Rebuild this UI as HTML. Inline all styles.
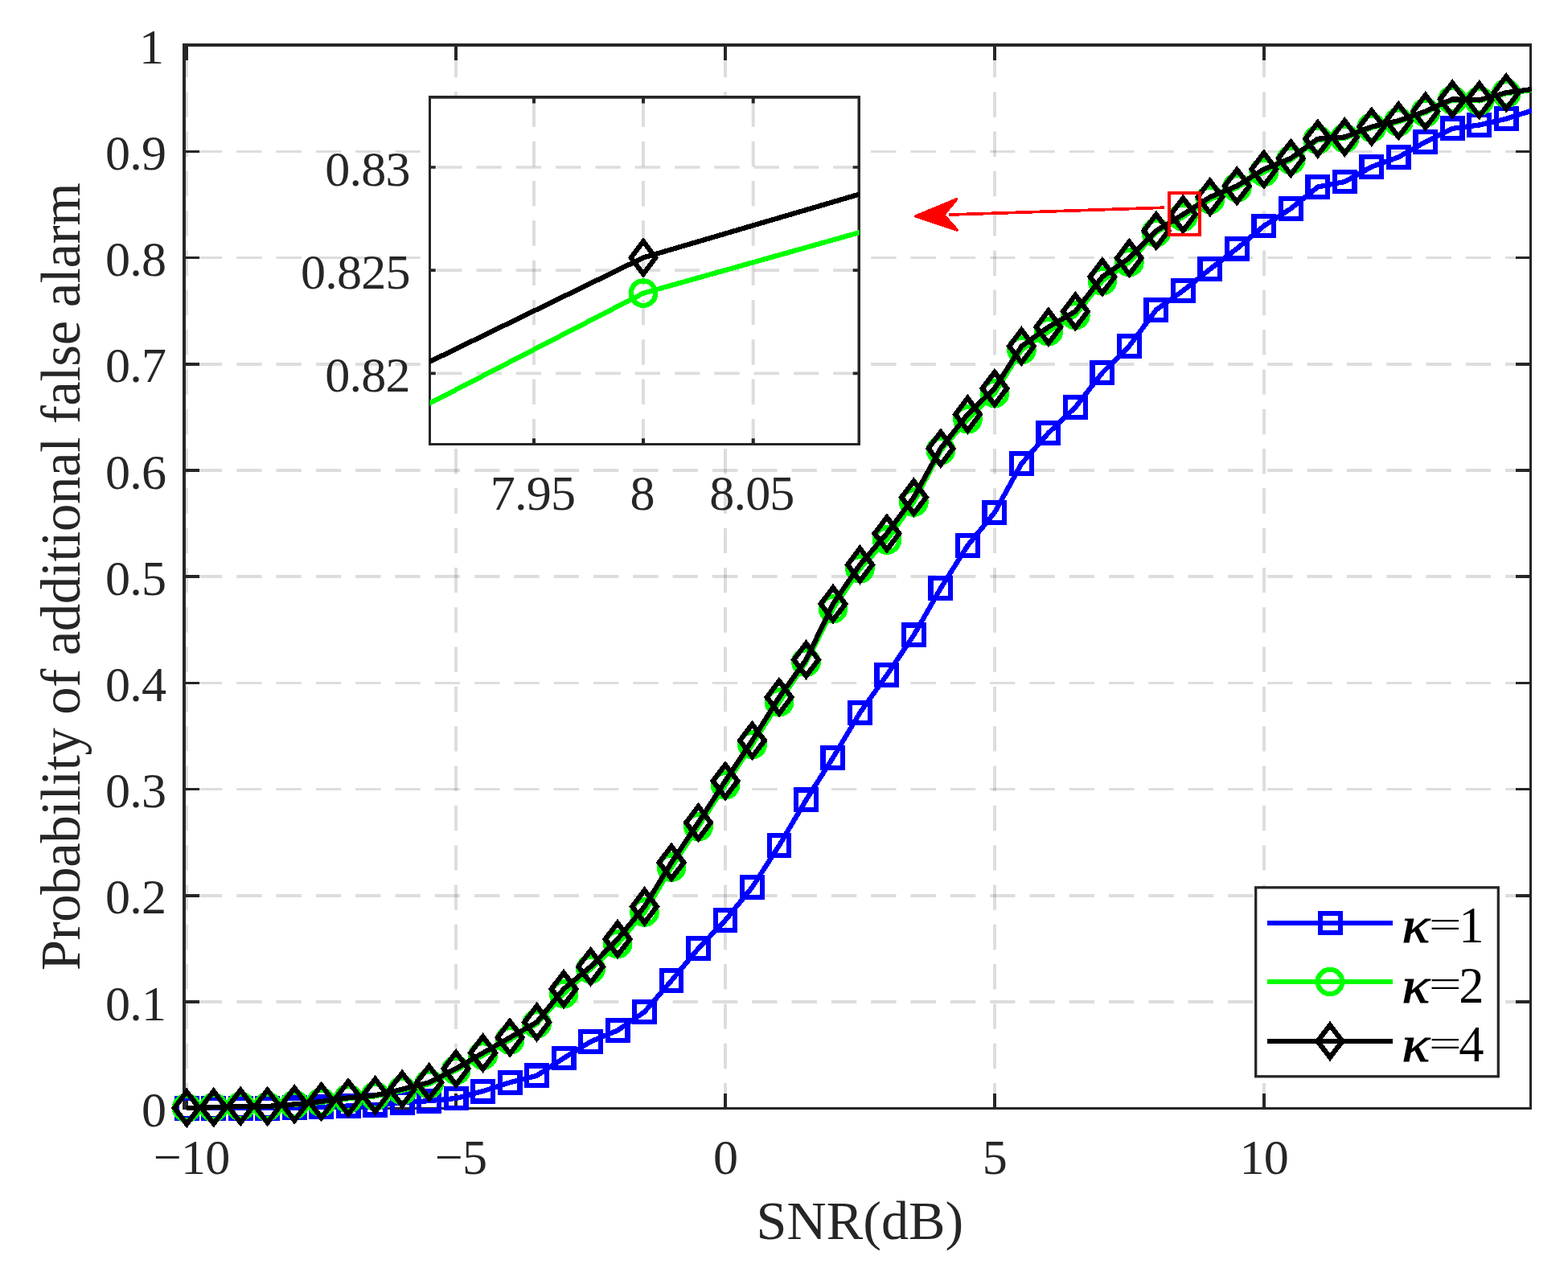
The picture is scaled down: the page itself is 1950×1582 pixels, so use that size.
<!DOCTYPE html>
<html lang="en"><head><meta charset="utf-8"><title>Probability of additional false alarm vs SNR</title>
<style>html,body{margin:0;padding:0;background:#fff}body{width:1950px;height:1582px;overflow:hidden}svg{display:block}text{font-family:"Liberation Serif",serif;fill:#262626}#legend text{fill:#000}</style></head><body>
<svg width="1950" height="1582" viewBox="0 0 1950 1582">
<defs><clipPath id="cm"><rect x="227" y="54" width="1678" height="1327.5"/></clipPath>
<clipPath id="ci"><rect x="534.5" y="121" width="534" height="431.5"/></clipPath></defs>
<rect width="1950" height="1582" fill="#fff"/>
<g id="main-axes"><g stroke="#262626" stroke-opacity="0.155" stroke-dasharray="31.4 17.91" fill="none"><path stroke-width="4" d="M232 1378.4V58"/><path stroke-width="4" d="M567 1378.4V58"/><path stroke-width="4" d="M902 1378.4V58"/><path stroke-width="4" d="M1237 1378.4V58"/><path stroke-width="4" d="M1572 1378.4V58"/><path stroke-width="4" d="M1903.5 1246H231"/><path stroke-width="4" d="M1903.5 1114H231"/><path stroke-width="3" d="M1903.5 981.5H231"/><path stroke-width="3" d="M1903.5 849.5H231"/><path stroke-width="4" d="M1903.5 717H231"/><path stroke-width="4" d="M1903.5 585H231"/><path stroke-width="4" d="M1903.5 453H231"/><path stroke-width="3" d="M1903.5 320.5H231"/><path stroke-width="3" d="M1903.5 188.5H231"/></g><path fill="#262626" d="M227 54H231V1380H227ZM227 54H1905V58H227ZM1902 54H1905V1380H1902ZM227 1377H1905V1380H227ZM230 58H234V75H230ZM230 1360H234V1377H230ZM565 58H569V75H565ZM565 1360H569V1377H565ZM900 58H904V75H900ZM900 1360H904V1377H900ZM1235 58H1239V75H1235ZM1235 1360H1239V1377H1235ZM1570 58H1574V75H1570ZM1570 1360H1574V1377H1570ZM231 1244H248V1248H231ZM1885 1244H1902V1248H1885ZM231 1112H248V1116H231ZM1885 1112H1902V1116H1885ZM231 980H248V983H231ZM1885 980H1902V983H1885ZM231 848H248V851H231ZM1885 848H1902V851H1885ZM231 715H248V719H231ZM1885 715H1902V719H1885ZM231 583H248V587H231ZM1885 583H1902V587H1885ZM231 451H248V455H231ZM1885 451H1902V455H1885ZM231 319H248V322H231ZM1885 319H1902V322H1885ZM231 187H248V190H231ZM1885 187H1902V190H1885Z"/></g>
<g id="s1" shape-rendering="crispEdges"><polyline points="232.2,1378.3 265.69,1378.3 299.18,1378.2 332.67,1378.2 366.16,1377.8 399.65,1376.9 433.14,1375.5 466.63,1374.2 500.12,1371.1 533.61,1369.2 567.1,1366 600.59,1357.1 634.08,1346.3 667.57,1337.8 701.06,1316 734.55,1295.5 768.04,1281.5 801.53,1258.5 835.02,1219.6 868.51,1179.6 902,1144.6 935.49,1103.4 968.98,1051.6 1002.47,994.9 1035.96,942.3 1069.45,886.4 1102.94,839.5 1136.43,789.9 1169.92,731.5 1203.41,678.5 1236.9,637.5 1270.39,576.7 1303.88,538.5 1337.37,506.5 1370.86,463.6 1404.35,430.5 1437.84,385.4 1471.33,361.5 1504.82,334.7 1538.31,309.2 1571.8,281 1605.29,259.5 1638.78,232.5 1672.27,226 1705.76,207.5 1739.25,195.4 1772.74,176.5 1806.23,159.9 1839.72,155.5 1873.21,147.7 1906.7,137" fill="none" stroke="#0000ff" stroke-width="6.25" stroke-linejoin="round" clip-path="url(#cm)"/><rect x="219.85" y="1365.95" width="24.7" height="24.7" fill="none" stroke="#0000ff" stroke-width="6.25"/><rect x="253.34" y="1365.95" width="24.7" height="24.7" fill="none" stroke="#0000ff" stroke-width="6.25"/><rect x="286.83" y="1365.85" width="24.7" height="24.7" fill="none" stroke="#0000ff" stroke-width="6.25"/><rect x="320.32" y="1365.85" width="24.7" height="24.7" fill="none" stroke="#0000ff" stroke-width="6.25"/><rect x="353.81" y="1365.45" width="24.7" height="24.7" fill="none" stroke="#0000ff" stroke-width="6.25"/><rect x="387.3" y="1364.55" width="24.7" height="24.7" fill="none" stroke="#0000ff" stroke-width="6.25"/><rect x="420.79" y="1363.15" width="24.7" height="24.7" fill="none" stroke="#0000ff" stroke-width="6.25"/><rect x="454.28" y="1361.85" width="24.7" height="24.7" fill="none" stroke="#0000ff" stroke-width="6.25"/><rect x="487.77" y="1358.75" width="24.7" height="24.7" fill="none" stroke="#0000ff" stroke-width="6.25"/><rect x="521.26" y="1356.85" width="24.7" height="24.7" fill="none" stroke="#0000ff" stroke-width="6.25"/><rect x="554.75" y="1353.65" width="24.7" height="24.7" fill="none" stroke="#0000ff" stroke-width="6.25"/><rect x="588.24" y="1344.75" width="24.7" height="24.7" fill="none" stroke="#0000ff" stroke-width="6.25"/><rect x="621.73" y="1333.95" width="24.7" height="24.7" fill="none" stroke="#0000ff" stroke-width="6.25"/><rect x="655.22" y="1325.45" width="24.7" height="24.7" fill="none" stroke="#0000ff" stroke-width="6.25"/><rect x="688.71" y="1303.65" width="24.7" height="24.7" fill="none" stroke="#0000ff" stroke-width="6.25"/><rect x="722.2" y="1283.15" width="24.7" height="24.7" fill="none" stroke="#0000ff" stroke-width="6.25"/><rect x="755.69" y="1269.15" width="24.7" height="24.7" fill="none" stroke="#0000ff" stroke-width="6.25"/><rect x="789.18" y="1246.15" width="24.7" height="24.7" fill="none" stroke="#0000ff" stroke-width="6.25"/><rect x="822.67" y="1207.25" width="24.7" height="24.7" fill="none" stroke="#0000ff" stroke-width="6.25"/><rect x="856.16" y="1167.25" width="24.7" height="24.7" fill="none" stroke="#0000ff" stroke-width="6.25"/><rect x="889.65" y="1132.25" width="24.7" height="24.7" fill="none" stroke="#0000ff" stroke-width="6.25"/><rect x="923.14" y="1091.05" width="24.7" height="24.7" fill="none" stroke="#0000ff" stroke-width="6.25"/><rect x="956.63" y="1039.25" width="24.7" height="24.7" fill="none" stroke="#0000ff" stroke-width="6.25"/><rect x="990.12" y="982.55" width="24.7" height="24.7" fill="none" stroke="#0000ff" stroke-width="6.25"/><rect x="1023.61" y="929.95" width="24.7" height="24.7" fill="none" stroke="#0000ff" stroke-width="6.25"/><rect x="1057.1" y="874.05" width="24.7" height="24.7" fill="none" stroke="#0000ff" stroke-width="6.25"/><rect x="1090.59" y="827.15" width="24.7" height="24.7" fill="none" stroke="#0000ff" stroke-width="6.25"/><rect x="1124.08" y="777.55" width="24.7" height="24.7" fill="none" stroke="#0000ff" stroke-width="6.25"/><rect x="1157.57" y="719.15" width="24.7" height="24.7" fill="none" stroke="#0000ff" stroke-width="6.25"/><rect x="1191.06" y="666.15" width="24.7" height="24.7" fill="none" stroke="#0000ff" stroke-width="6.25"/><rect x="1224.55" y="625.15" width="24.7" height="24.7" fill="none" stroke="#0000ff" stroke-width="6.25"/><rect x="1258.04" y="564.35" width="24.7" height="24.7" fill="none" stroke="#0000ff" stroke-width="6.25"/><rect x="1291.53" y="526.15" width="24.7" height="24.7" fill="none" stroke="#0000ff" stroke-width="6.25"/><rect x="1325.02" y="494.15" width="24.7" height="24.7" fill="none" stroke="#0000ff" stroke-width="6.25"/><rect x="1358.51" y="451.25" width="24.7" height="24.7" fill="none" stroke="#0000ff" stroke-width="6.25"/><rect x="1392" y="418.15" width="24.7" height="24.7" fill="none" stroke="#0000ff" stroke-width="6.25"/><rect x="1425.49" y="373.05" width="24.7" height="24.7" fill="none" stroke="#0000ff" stroke-width="6.25"/><rect x="1458.98" y="349.15" width="24.7" height="24.7" fill="none" stroke="#0000ff" stroke-width="6.25"/><rect x="1492.47" y="322.35" width="24.7" height="24.7" fill="none" stroke="#0000ff" stroke-width="6.25"/><rect x="1525.96" y="296.85" width="24.7" height="24.7" fill="none" stroke="#0000ff" stroke-width="6.25"/><rect x="1559.45" y="268.65" width="24.7" height="24.7" fill="none" stroke="#0000ff" stroke-width="6.25"/><rect x="1592.94" y="247.15" width="24.7" height="24.7" fill="none" stroke="#0000ff" stroke-width="6.25"/><rect x="1626.43" y="220.15" width="24.7" height="24.7" fill="none" stroke="#0000ff" stroke-width="6.25"/><rect x="1659.92" y="213.65" width="24.7" height="24.7" fill="none" stroke="#0000ff" stroke-width="6.25"/><rect x="1693.41" y="195.15" width="24.7" height="24.7" fill="none" stroke="#0000ff" stroke-width="6.25"/><rect x="1726.9" y="183.05" width="24.7" height="24.7" fill="none" stroke="#0000ff" stroke-width="6.25"/><rect x="1760.39" y="164.15" width="24.7" height="24.7" fill="none" stroke="#0000ff" stroke-width="6.25"/><rect x="1793.88" y="147.55" width="24.7" height="24.7" fill="none" stroke="#0000ff" stroke-width="6.25"/><rect x="1827.37" y="143.15" width="24.7" height="24.7" fill="none" stroke="#0000ff" stroke-width="6.25"/><rect x="1860.86" y="135.35" width="24.7" height="24.7" fill="none" stroke="#0000ff" stroke-width="6.25"/></g>
<g id="s2" shape-rendering="crispEdges"><polyline points="232.2,1377.9 265.69,1377.3 299.18,1376 332.67,1376.3 366.16,1373.8 399.65,1371 433.14,1366.4 466.63,1363.3 500.12,1356.3 533.61,1348.2 567.1,1331.1 600.59,1312.5 634.08,1293.4 667.57,1273.3 701.06,1236 734.55,1205.2 768.04,1174 801.53,1134.5 835.02,1078.7 868.51,1028.1 902,976.3 935.49,926 968.98,873.2 1002.47,823.5 1035.96,757.1 1069.45,707.3 1102.94,671.5 1136.43,624.5 1169.92,560.2 1203.41,521.3 1236.9,489.1 1270.39,435.1 1303.88,412.2 1337.37,392 1370.86,349.3 1404.35,326 1437.84,289.2 1471.33,269.7 1504.82,248.1 1538.31,233.3 1571.8,214 1605.29,198.9 1638.78,173.9 1672.27,172 1705.76,158.7 1739.25,151.6 1772.74,140 1806.23,124.4 1839.72,125.4 1873.21,116.2 1906.7,111.8" fill="none" stroke="#00ff00" stroke-width="6.25" stroke-linejoin="round" clip-path="url(#cm)"/><circle cx="232.2" cy="1377.9" r="15.25" fill="none" stroke="#00ff00" stroke-width="6.25"/><circle cx="265.69" cy="1377.3" r="15.25" fill="none" stroke="#00ff00" stroke-width="6.25"/><circle cx="299.18" cy="1376" r="15.25" fill="none" stroke="#00ff00" stroke-width="6.25"/><circle cx="332.67" cy="1376.3" r="15.25" fill="none" stroke="#00ff00" stroke-width="6.25"/><circle cx="366.16" cy="1373.8" r="15.25" fill="none" stroke="#00ff00" stroke-width="6.25"/><circle cx="399.65" cy="1371" r="15.25" fill="none" stroke="#00ff00" stroke-width="6.25"/><circle cx="433.14" cy="1366.4" r="15.25" fill="none" stroke="#00ff00" stroke-width="6.25"/><circle cx="466.63" cy="1363.3" r="15.25" fill="none" stroke="#00ff00" stroke-width="6.25"/><circle cx="500.12" cy="1356.3" r="15.25" fill="none" stroke="#00ff00" stroke-width="6.25"/><circle cx="533.61" cy="1348.2" r="15.25" fill="none" stroke="#00ff00" stroke-width="6.25"/><circle cx="567.1" cy="1331.1" r="15.25" fill="none" stroke="#00ff00" stroke-width="6.25"/><circle cx="600.59" cy="1312.5" r="15.25" fill="none" stroke="#00ff00" stroke-width="6.25"/><circle cx="634.08" cy="1293.4" r="15.25" fill="none" stroke="#00ff00" stroke-width="6.25"/><circle cx="667.57" cy="1273.3" r="15.25" fill="none" stroke="#00ff00" stroke-width="6.25"/><circle cx="701.06" cy="1236" r="15.25" fill="none" stroke="#00ff00" stroke-width="6.25"/><circle cx="734.55" cy="1205.2" r="15.25" fill="none" stroke="#00ff00" stroke-width="6.25"/><circle cx="768.04" cy="1174" r="15.25" fill="none" stroke="#00ff00" stroke-width="6.25"/><circle cx="801.53" cy="1134.5" r="15.25" fill="none" stroke="#00ff00" stroke-width="6.25"/><circle cx="835.02" cy="1078.7" r="15.25" fill="none" stroke="#00ff00" stroke-width="6.25"/><circle cx="868.51" cy="1028.1" r="15.25" fill="none" stroke="#00ff00" stroke-width="6.25"/><circle cx="902" cy="976.3" r="15.25" fill="none" stroke="#00ff00" stroke-width="6.25"/><circle cx="935.49" cy="926" r="15.25" fill="none" stroke="#00ff00" stroke-width="6.25"/><circle cx="968.98" cy="873.2" r="15.25" fill="none" stroke="#00ff00" stroke-width="6.25"/><circle cx="1002.47" cy="823.5" r="15.25" fill="none" stroke="#00ff00" stroke-width="6.25"/><circle cx="1035.96" cy="757.1" r="15.25" fill="none" stroke="#00ff00" stroke-width="6.25"/><circle cx="1069.45" cy="707.3" r="15.25" fill="none" stroke="#00ff00" stroke-width="6.25"/><circle cx="1102.94" cy="671.5" r="15.25" fill="none" stroke="#00ff00" stroke-width="6.25"/><circle cx="1136.43" cy="624.5" r="15.25" fill="none" stroke="#00ff00" stroke-width="6.25"/><circle cx="1169.92" cy="560.2" r="15.25" fill="none" stroke="#00ff00" stroke-width="6.25"/><circle cx="1203.41" cy="521.3" r="15.25" fill="none" stroke="#00ff00" stroke-width="6.25"/><circle cx="1236.9" cy="489.1" r="15.25" fill="none" stroke="#00ff00" stroke-width="6.25"/><circle cx="1270.39" cy="435.1" r="15.25" fill="none" stroke="#00ff00" stroke-width="6.25"/><circle cx="1303.88" cy="412.2" r="15.25" fill="none" stroke="#00ff00" stroke-width="6.25"/><circle cx="1337.37" cy="392" r="15.25" fill="none" stroke="#00ff00" stroke-width="6.25"/><circle cx="1370.86" cy="349.3" r="15.25" fill="none" stroke="#00ff00" stroke-width="6.25"/><circle cx="1404.35" cy="326" r="15.25" fill="none" stroke="#00ff00" stroke-width="6.25"/><circle cx="1437.84" cy="289.2" r="15.25" fill="none" stroke="#00ff00" stroke-width="6.25"/><circle cx="1471.33" cy="269.7" r="15.25" fill="none" stroke="#00ff00" stroke-width="6.25"/><circle cx="1504.82" cy="248.1" r="15.25" fill="none" stroke="#00ff00" stroke-width="6.25"/><circle cx="1538.31" cy="233.3" r="15.25" fill="none" stroke="#00ff00" stroke-width="6.25"/><circle cx="1571.8" cy="214" r="15.25" fill="none" stroke="#00ff00" stroke-width="6.25"/><circle cx="1605.29" cy="198.9" r="15.25" fill="none" stroke="#00ff00" stroke-width="6.25"/><circle cx="1638.78" cy="173.9" r="15.25" fill="none" stroke="#00ff00" stroke-width="6.25"/><circle cx="1672.27" cy="172" r="15.25" fill="none" stroke="#00ff00" stroke-width="6.25"/><circle cx="1705.76" cy="158.7" r="15.25" fill="none" stroke="#00ff00" stroke-width="6.25"/><circle cx="1739.25" cy="151.6" r="15.25" fill="none" stroke="#00ff00" stroke-width="6.25"/><circle cx="1772.74" cy="140" r="15.25" fill="none" stroke="#00ff00" stroke-width="6.25"/><circle cx="1806.23" cy="124.4" r="15.25" fill="none" stroke="#00ff00" stroke-width="6.25"/><circle cx="1839.72" cy="125.4" r="15.25" fill="none" stroke="#00ff00" stroke-width="6.25"/><circle cx="1873.21" cy="116.2" r="15.25" fill="none" stroke="#00ff00" stroke-width="6.25"/></g>
<g id="s4" shape-rendering="crispEdges"><polyline points="232.2,1377.9 265.69,1377.3 299.18,1376 332.67,1376 366.16,1373.4 399.65,1370 433.14,1365.4 466.63,1362.3 500.12,1354.8 533.61,1346.2 567.1,1329.1 600.59,1309.5 634.08,1290.4 667.57,1271.3 701.06,1230 734.55,1202.2 768.04,1168 801.53,1127.5 835.02,1072.7 868.51,1023.1 902,971.3 935.49,921 968.98,867.2 1002.47,820.5 1035.96,751.1 1069.45,702.3 1102.94,663.5 1136.43,618.5 1169.92,557.7 1203.41,515.3 1236.9,483.1 1270.39,430.7 1303.88,406.7 1337.37,387.3 1370.86,344.3 1404.35,321 1437.84,287 1471.33,266.7 1504.82,245.1 1538.31,231.3 1571.8,210.5 1605.29,196.9 1638.78,172.7 1672.27,170.5 1705.76,157.7 1739.25,150.1 1772.74,138.5 1806.23,123.4 1839.72,124.4 1873.21,115.2 1906.7,110.8" fill="none" stroke="#000000" stroke-width="6.25" stroke-linejoin="round" clip-path="url(#cm)"/><path d="M232.2 1357.7L247.5 1377.9L232.2 1398.1L216.9 1377.9Z" fill="none" stroke="#000000" stroke-width="6.25" stroke-miterlimit="10"/><path d="M265.69 1357.1L280.99 1377.3L265.69 1397.5L250.39 1377.3Z" fill="none" stroke="#000000" stroke-width="6.25" stroke-miterlimit="10"/><path d="M299.18 1355.8L314.48 1376L299.18 1396.2L283.88 1376Z" fill="none" stroke="#000000" stroke-width="6.25" stroke-miterlimit="10"/><path d="M332.67 1355.8L347.97 1376L332.67 1396.2L317.37 1376Z" fill="none" stroke="#000000" stroke-width="6.25" stroke-miterlimit="10"/><path d="M366.16 1353.2L381.46 1373.4L366.16 1393.6L350.86 1373.4Z" fill="none" stroke="#000000" stroke-width="6.25" stroke-miterlimit="10"/><path d="M399.65 1349.8L414.95 1370L399.65 1390.2L384.35 1370Z" fill="none" stroke="#000000" stroke-width="6.25" stroke-miterlimit="10"/><path d="M433.14 1345.2L448.44 1365.4L433.14 1385.6L417.84 1365.4Z" fill="none" stroke="#000000" stroke-width="6.25" stroke-miterlimit="10"/><path d="M466.63 1342.1L481.93 1362.3L466.63 1382.5L451.33 1362.3Z" fill="none" stroke="#000000" stroke-width="6.25" stroke-miterlimit="10"/><path d="M500.12 1334.6L515.42 1354.8L500.12 1375L484.82 1354.8Z" fill="none" stroke="#000000" stroke-width="6.25" stroke-miterlimit="10"/><path d="M533.61 1326L548.91 1346.2L533.61 1366.4L518.31 1346.2Z" fill="none" stroke="#000000" stroke-width="6.25" stroke-miterlimit="10"/><path d="M567.1 1308.9L582.4 1329.1L567.1 1349.3L551.8 1329.1Z" fill="none" stroke="#000000" stroke-width="6.25" stroke-miterlimit="10"/><path d="M600.59 1289.3L615.89 1309.5L600.59 1329.7L585.29 1309.5Z" fill="none" stroke="#000000" stroke-width="6.25" stroke-miterlimit="10"/><path d="M634.08 1270.2L649.38 1290.4L634.08 1310.6L618.78 1290.4Z" fill="none" stroke="#000000" stroke-width="6.25" stroke-miterlimit="10"/><path d="M667.57 1251.1L682.87 1271.3L667.57 1291.5L652.27 1271.3Z" fill="none" stroke="#000000" stroke-width="6.25" stroke-miterlimit="10"/><path d="M701.06 1209.8L716.36 1230L701.06 1250.2L685.76 1230Z" fill="none" stroke="#000000" stroke-width="6.25" stroke-miterlimit="10"/><path d="M734.55 1182L749.85 1202.2L734.55 1222.4L719.25 1202.2Z" fill="none" stroke="#000000" stroke-width="6.25" stroke-miterlimit="10"/><path d="M768.04 1147.8L783.34 1168L768.04 1188.2L752.74 1168Z" fill="none" stroke="#000000" stroke-width="6.25" stroke-miterlimit="10"/><path d="M801.53 1107.3L816.83 1127.5L801.53 1147.7L786.23 1127.5Z" fill="none" stroke="#000000" stroke-width="6.25" stroke-miterlimit="10"/><path d="M835.02 1052.5L850.32 1072.7L835.02 1092.9L819.72 1072.7Z" fill="none" stroke="#000000" stroke-width="6.25" stroke-miterlimit="10"/><path d="M868.51 1002.9L883.81 1023.1L868.51 1043.3L853.21 1023.1Z" fill="none" stroke="#000000" stroke-width="6.25" stroke-miterlimit="10"/><path d="M902 951.1L917.3 971.3L902 991.5L886.7 971.3Z" fill="none" stroke="#000000" stroke-width="6.25" stroke-miterlimit="10"/><path d="M935.49 900.8L950.79 921L935.49 941.2L920.19 921Z" fill="none" stroke="#000000" stroke-width="6.25" stroke-miterlimit="10"/><path d="M968.98 847L984.28 867.2L968.98 887.4L953.68 867.2Z" fill="none" stroke="#000000" stroke-width="6.25" stroke-miterlimit="10"/><path d="M1002.47 800.3L1017.77 820.5L1002.47 840.7L987.17 820.5Z" fill="none" stroke="#000000" stroke-width="6.25" stroke-miterlimit="10"/><path d="M1035.96 730.9L1051.26 751.1L1035.96 771.3L1020.66 751.1Z" fill="none" stroke="#000000" stroke-width="6.25" stroke-miterlimit="10"/><path d="M1069.45 682.1L1084.75 702.3L1069.45 722.5L1054.15 702.3Z" fill="none" stroke="#000000" stroke-width="6.25" stroke-miterlimit="10"/><path d="M1102.94 643.3L1118.24 663.5L1102.94 683.7L1087.64 663.5Z" fill="none" stroke="#000000" stroke-width="6.25" stroke-miterlimit="10"/><path d="M1136.43 598.3L1151.73 618.5L1136.43 638.7L1121.13 618.5Z" fill="none" stroke="#000000" stroke-width="6.25" stroke-miterlimit="10"/><path d="M1169.92 537.5L1185.22 557.7L1169.92 577.9L1154.62 557.7Z" fill="none" stroke="#000000" stroke-width="6.25" stroke-miterlimit="10"/><path d="M1203.41 495.1L1218.71 515.3L1203.41 535.5L1188.11 515.3Z" fill="none" stroke="#000000" stroke-width="6.25" stroke-miterlimit="10"/><path d="M1236.9 462.9L1252.2 483.1L1236.9 503.3L1221.6 483.1Z" fill="none" stroke="#000000" stroke-width="6.25" stroke-miterlimit="10"/><path d="M1270.39 410.5L1285.69 430.7L1270.39 450.9L1255.09 430.7Z" fill="none" stroke="#000000" stroke-width="6.25" stroke-miterlimit="10"/><path d="M1303.88 386.5L1319.18 406.7L1303.88 426.9L1288.58 406.7Z" fill="none" stroke="#000000" stroke-width="6.25" stroke-miterlimit="10"/><path d="M1337.37 367.1L1352.67 387.3L1337.37 407.5L1322.07 387.3Z" fill="none" stroke="#000000" stroke-width="6.25" stroke-miterlimit="10"/><path d="M1370.86 324.1L1386.16 344.3L1370.86 364.5L1355.56 344.3Z" fill="none" stroke="#000000" stroke-width="6.25" stroke-miterlimit="10"/><path d="M1404.35 300.8L1419.65 321L1404.35 341.2L1389.05 321Z" fill="none" stroke="#000000" stroke-width="6.25" stroke-miterlimit="10"/><path d="M1437.84 266.8L1453.14 287L1437.84 307.2L1422.54 287Z" fill="none" stroke="#000000" stroke-width="6.25" stroke-miterlimit="10"/><path d="M1471.33 246.5L1486.63 266.7L1471.33 286.9L1456.03 266.7Z" fill="none" stroke="#000000" stroke-width="6.25" stroke-miterlimit="10"/><path d="M1504.82 224.9L1520.12 245.1L1504.82 265.3L1489.52 245.1Z" fill="none" stroke="#000000" stroke-width="6.25" stroke-miterlimit="10"/><path d="M1538.31 211.1L1553.61 231.3L1538.31 251.5L1523.01 231.3Z" fill="none" stroke="#000000" stroke-width="6.25" stroke-miterlimit="10"/><path d="M1571.8 190.3L1587.1 210.5L1571.8 230.7L1556.5 210.5Z" fill="none" stroke="#000000" stroke-width="6.25" stroke-miterlimit="10"/><path d="M1605.29 176.7L1620.59 196.9L1605.29 217.1L1589.99 196.9Z" fill="none" stroke="#000000" stroke-width="6.25" stroke-miterlimit="10"/><path d="M1638.78 152.5L1654.08 172.7L1638.78 192.9L1623.48 172.7Z" fill="none" stroke="#000000" stroke-width="6.25" stroke-miterlimit="10"/><path d="M1672.27 150.3L1687.57 170.5L1672.27 190.7L1656.97 170.5Z" fill="none" stroke="#000000" stroke-width="6.25" stroke-miterlimit="10"/><path d="M1705.76 137.5L1721.06 157.7L1705.76 177.9L1690.46 157.7Z" fill="none" stroke="#000000" stroke-width="6.25" stroke-miterlimit="10"/><path d="M1739.25 129.9L1754.55 150.1L1739.25 170.3L1723.95 150.1Z" fill="none" stroke="#000000" stroke-width="6.25" stroke-miterlimit="10"/><path d="M1772.74 118.3L1788.04 138.5L1772.74 158.7L1757.44 138.5Z" fill="none" stroke="#000000" stroke-width="6.25" stroke-miterlimit="10"/><path d="M1806.23 103.2L1821.53 123.4L1806.23 143.6L1790.93 123.4Z" fill="none" stroke="#000000" stroke-width="6.25" stroke-miterlimit="10"/><path d="M1839.72 104.2L1855.02 124.4L1839.72 144.6L1824.42 124.4Z" fill="none" stroke="#000000" stroke-width="6.25" stroke-miterlimit="10"/><path d="M1873.21 95L1888.51 115.2L1873.21 135.4L1857.91 115.2Z" fill="none" stroke="#000000" stroke-width="6.25" stroke-miterlimit="10"/></g>
<g id="annot" shape-rendering="crispEdges"><rect x="1454" y="240.2" width="37.8" height="51.6" fill="none" stroke="#ff0000" stroke-width="4"/>
<path d="M1448 258.2L1180 267.1" stroke="#ff0000" stroke-width="3.7" fill="none"/>
<path d="M1138.6 268.9L1189.6 247.8L1173.8 267.3L1190.4 286.2Z" fill="#ff0000" stroke="#ff0000" stroke-width="3.4" stroke-linejoin="round"/></g>
<g id="inset"><rect x="533" y="119" width="537" height="435" fill="#fff"/><g stroke="#262626" stroke-opacity="0.155" stroke-dasharray="31.4 17.91" fill="none"><path stroke-width="4" d="M664 552.3V122.7"/><path stroke-width="4" d="M800 552.3V122.7"/><path stroke-width="4" d="M936.7 552.3V122.7"/><path stroke-width="3.7" d="M1067.6 208H536"/><path stroke-width="3.7" d="M1067.6 336.2H536"/><path stroke-width="3.7" d="M1067.6 464.4H536"/></g><path fill="#262626" d="M533 119H536V554H533ZM533 119H1070V122.7H533ZM1066.5 119H1070V554H1066.5ZM533 551H1070V554H533ZM662 122.7H666V128.5H662ZM662 545.2H666V551H662ZM798 122.7H802V128.5H798ZM798 545.2H802V551H798ZM934.7 122.7H938.7V128.5H934.7ZM934.7 545.2H938.7V551H934.7ZM536 206.15H541.8V209.85H536ZM1060.7 206.15H1066.5V209.85H1060.7ZM536 334.35H541.8V338.05H536ZM1060.7 334.35H1066.5V338.05H1060.7ZM536 462.55H541.8V466.25H536ZM1060.7 462.55H1066.5V466.25H1060.7Z"/><g shape-rendering="crispEdges"><polyline points="400,570.8 800,364.7 1200,252.3" fill="none" stroke="#00ff00" stroke-width="6.25" clip-path="url(#ci)"/><circle cx="800" cy="364.7" r="15.25" fill="none" stroke="#00ff00" stroke-width="6.25"/><polyline points="400,515.3 800,320.5 1200,203" fill="none" stroke="#000" stroke-width="6.25" clip-path="url(#ci)"/><path d="M800 300.3L815.3 320.5L800 340.7L784.7 320.5Z" fill="none" stroke="#000" stroke-width="6.25" stroke-miterlimit="10"/></g></g>
<g id="legend"><rect x="1561.7" y="1103.8" width="301.6" height="235" fill="#fff" stroke="#262626" stroke-width="3.3"/><g shape-rendering="crispEdges"><path d="M1576 1148H1732" stroke="#0000ff" stroke-width="6.25" fill="none"/><rect x="1642.15" y="1135.65" width="24.7" height="24.7" fill="none" stroke="#0000ff" stroke-width="6.25"/><path d="M1576 1221H1732" stroke="#00ff00" stroke-width="6.25" fill="none"/><circle cx="1654" cy="1221" r="15.25" fill="none" stroke="#00ff00" stroke-width="6.25"/><path d="M1576 1295H1732" stroke="#000000" stroke-width="6.25" fill="none"/><path d="M1654 1274.8L1669.3 1295L1654 1315.2L1638.7 1295Z" fill="none" stroke="#000000" stroke-width="6.25" stroke-miterlimit="10"/></g><text transform="translate(1743.5 1172.2) scale(1.15 1)" font-size="62.5" font-style="italic" stroke="#000" stroke-width="1.1">κ</text><text transform="translate(1777 1164.9) scale(1.15 0.75)" font-size="62.5">=</text><text x="1814.3" y="1172.2" font-size="62.5">1</text><text transform="translate(1743.5 1246.7) scale(1.15 1)" font-size="62.5" font-style="italic" stroke="#000" stroke-width="1.1">κ</text><text transform="translate(1777 1239.4) scale(1.15 0.75)" font-size="62.5">=</text><text x="1814.3" y="1246.7" font-size="62.5">2</text><text transform="translate(1743.5 1320.1) scale(1.15 1)" font-size="62.5" font-style="italic" stroke="#000" stroke-width="1.1">κ</text><text transform="translate(1777 1312.8) scale(1.15 0.75)" font-size="62.5">=</text><text x="1814.3" y="1320.1" font-size="62.5">4</text></g>
<g font-size="62.1" letter-spacing="-0.8"><text x="206.2" y="1400.7" text-anchor="end">0</text><text x="206.2" y="1268.5" text-anchor="end">0.1</text><text x="206.2" y="1136.3" text-anchor="end">0.2</text><text x="206.2" y="1004.1" text-anchor="end">0.3</text><text x="206.2" y="871.9" text-anchor="end">0.4</text><text x="206.2" y="739.7" text-anchor="end">0.5</text><text x="206.2" y="607.5" text-anchor="end">0.6</text><text x="206.2" y="475.3" text-anchor="end">0.7</text><text x="206.2" y="343.1" text-anchor="end">0.8</text><text x="206.2" y="210.9" text-anchor="end">0.9</text><text x="203.2" y="78.7" text-anchor="end">1</text><text x="238.2" y="1459.7" text-anchor="middle">−10</text><text x="573.1" y="1459.7" text-anchor="middle">−5</text><text x="902" y="1459.7" text-anchor="middle">0</text><text x="1236.9" y="1459.7" text-anchor="middle">5</text><text x="1571.8" y="1459.7" text-anchor="middle">10</text><text x="509.8" y="230.5" text-anchor="end">0.83</text><text x="509.8" y="358.7" text-anchor="end">0.825</text><text x="509.8" y="486.9" text-anchor="end">0.82</text><text x="662.5" y="633.6" text-anchor="middle">7.95</text><text x="798.7" y="633.6" text-anchor="middle">8</text><text x="934.9" y="633.6" text-anchor="middle">8.05</text></g>
<text x="1069.4" y="1541.3" font-size="68.2" text-anchor="middle">SNR(dB)</text>
<text transform="translate(98.9 717.4) rotate(-90)" font-size="68.75" letter-spacing="-0.36" text-anchor="middle">Probability of additional false alarm</text>
</svg></body></html>
